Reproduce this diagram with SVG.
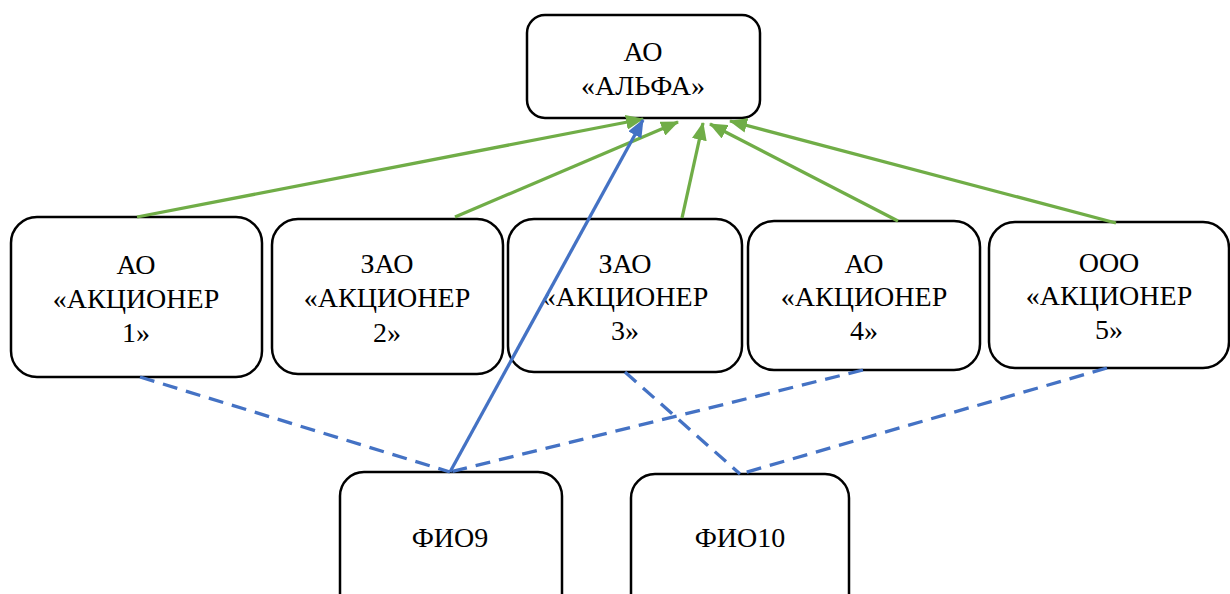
<svg xmlns="http://www.w3.org/2000/svg" width="1230" height="594" viewBox="0 0 1230 594">
<style>
.box{fill:#fff;stroke:#000;stroke-width:2.5}
text{font-family:'Liberation Serif','Times New Roman',serif;font-size:28px;fill:#000;text-anchor:middle}
.g{stroke:#70AD47;stroke-width:3.3;fill:none}
.b{stroke:#4472C4;stroke-width:3.3;fill:none}
.d{stroke:#4472C4;stroke-width:3.3;fill:none;stroke-dasharray:15 9}
</style>
<defs>
<marker id="ag" markerUnits="userSpaceOnUse" markerWidth="18" markerHeight="15" refX="17" refY="7.5" orient="auto"><path d="M0,0 L18,7.5 L0,15 Z" fill="#70AD47"/></marker>
<marker id="ab" markerUnits="userSpaceOnUse" markerWidth="18" markerHeight="15" refX="17" refY="7.5" orient="auto"><path d="M0,0 L18,7.5 L0,15 Z" fill="#4472C4"/></marker>
</defs>
<rect width="1230" height="594" fill="#fff"/>
<g id="n-alfa"><rect class="box" x="527" y="15" width="233" height="103" rx="18"/><text x="643" y="61">АО</text><text x="643" y="95">«АЛЬФА»</text></g>
<g id="n-a1"><rect class="box" x="11" y="217" width="251" height="160" rx="26"/><text x="136" y="274">АО</text><text x="136" y="308">«АКЦИОНЕР</text><text x="136" y="342">1»</text></g>
<g id="n-a2"><rect class="box" x="272" y="219" width="231" height="155" rx="26"/><text x="387" y="273">ЗАО</text><text x="387" y="307">«АКЦИОНЕР</text><text x="387" y="342">2»</text></g>
<g id="n-a3"><rect class="box" x="508" y="219" width="234" height="153" rx="26"/><text x="625" y="273">ЗАО</text><text x="625" y="306">«АКЦИОНЕР</text><text x="625" y="340">3»</text></g>
<g id="n-a4"><rect class="box" x="748" y="221" width="232" height="149" rx="26"/><text x="864" y="273">АО</text><text x="864" y="306">«АКЦИОНЕР</text><text x="864" y="340">4»</text></g>
<g id="n-a5"><rect class="box" x="989" y="222" width="240" height="146" rx="26"/><text x="1109" y="272">ООО</text><text x="1109" y="305">«АКЦИОНЕР</text><text x="1109" y="339">5»</text></g>
<g id="n-f9"><rect class="box" x="340" y="472" width="222" height="150" rx="24"/><text x="450" y="547">ФИО9</text></g>
<g id="n-f10"><rect class="box" x="631" y="474" width="218" height="150" rx="24"/><text x="740" y="547">ФИО10</text></g>
<g id="connectors">
<line class="g" x1="137" y1="217" x2="643" y2="119" marker-end="url(#ag)"/>
<line class="g" x1="455" y1="217" x2="678" y2="122" marker-end="url(#ag)"/>
<line class="g" x1="682" y1="218" x2="703" y2="123" marker-end="url(#ag)"/>
<line class="g" x1="898" y1="221" x2="710" y2="124" marker-end="url(#ag)"/>
<line class="g" x1="1116" y1="223" x2="730" y2="121" marker-end="url(#ag)"/>
<line class="b" x1="450" y1="472" x2="643" y2="120" marker-end="url(#ab)"/>
<line class="d" x1="140" y1="377" x2="450" y2="472"/>
<line class="d" x1="863" y1="370" x2="450" y2="472"/>
<line class="d" x1="625" y1="372" x2="740" y2="474"/>
<line class="d" x1="1107" y1="368" x2="740" y2="474"/>
</g>
</svg>
